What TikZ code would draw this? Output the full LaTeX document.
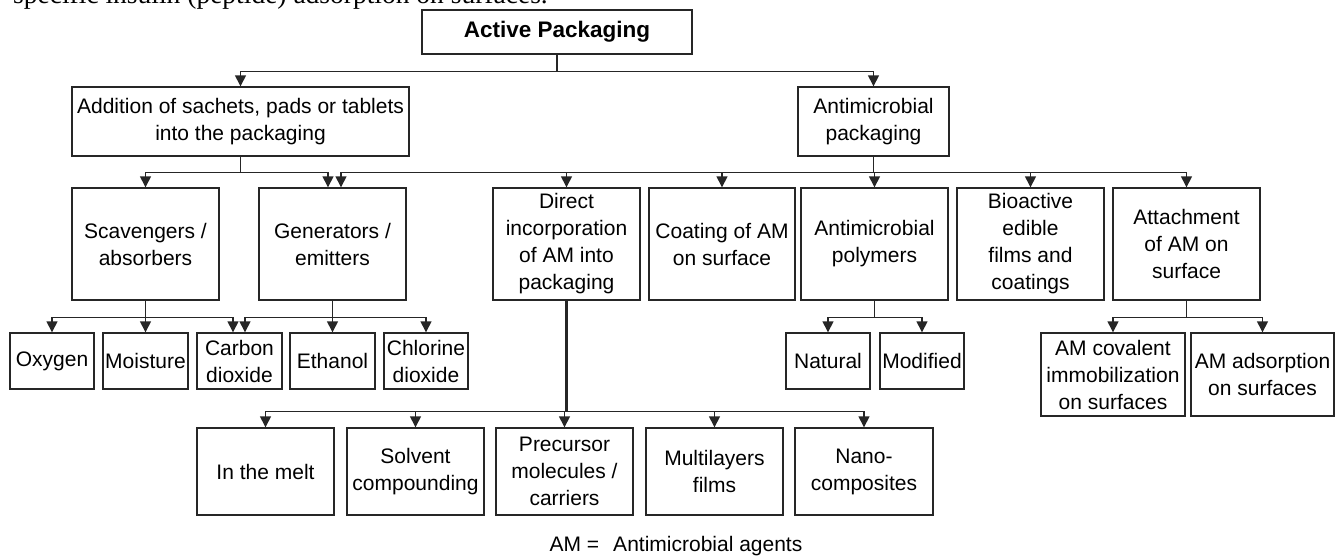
\documentclass[tikz,border=0pt]{standalone}
\usepackage{fontspec}
\setmainfont{Liberation Sans}
\newfontfamily\pageserif{Liberation Serif}
\usetikzlibrary{arrows.meta}
\tikzset{
  box/.style={draw=black!85, line width=1.4pt, inner sep=0pt, align=center,
    font=\fontsize{21}{27}\selectfont, text=black},
  sz/.style 2 args={minimum width=#1, minimum height=#2},
  arr/.style={draw=black!85, line width=1.4pt, -{Triangle[length=11pt,width=11pt]}},
  stem/.style={draw=black!85, line width=2.4pt},
}
\begin{document}
\begin{tikzpicture}[x=1pt,y=-1pt]
\useasboundingbox (0,0) rectangle (1344,558);
\clip (0,0) rectangle (1344,558);
\fill[white] (0,0) rectangle (1344,558);

% cut-off line of the page text
\node[anchor=base west, inner sep=0pt, font=\pageserif\fontsize{27.5}{30}\selectfont] (pagetext) at (13,3.5)
  {specific insulin (peptide) adsorption on surfaces.};

% level 0
\node[box, sz={270}{44}, font=\bfseries\fontsize{22.5}{26}\selectfont] (ap) at (557,32) {Active Packaging};
% level 1
\node[box, sz={337}{69}] (add) at (240.5,121.5) {Addition of sachets, pads or tablets\\into the packaging};
\node[box, sz={151}{69}] (amp) at (873.5,121.5) {Antimicrobial\\packaging};
% level 2
\node[box, sz={147}{112}] (sc)   at (145.5,244)  {Scavengers /\\absorbers};
\node[box, sz={147}{112}] (gen)  at (332.5,244)  {Generators /\\emitters};
\node[box, sz={147}{112}] (dir)  at (566.5,244)  {Direct\\incorporation\\of AM into\\packaging};
\node[box, sz={146}{112}] (coat) at (722,244)    {Coating of AM\\on surface};
\node[box, sz={147}{112}] (poly) at (874.5,244)  {Antimicrobial\\polymers};
\node[box, sz={147}{112}] (bio)  at (1030.5,244) {Bioactive\\edible\\films and\\coatings};
\node[box, sz={147}{112}] (att)  at (1186.5,244) {Attachment\\of AM on\\surface};
% level 3
\node[box, sz={84}{56}] (oxy) at (52,361)    {Oxygen};
\node[box, sz={85}{56}] (moi) at (145.5,361) {Moisture};
\node[box, sz={85}{56}] (co2) at (239.5,361) {Carbon\\dioxide};
\node[box, sz={85}{56}] (eth) at (332.5,361) {Ethanol};
\node[box, sz={84}{56}] (clo) at (426,361)   {Chlorine\\dioxide};
\node[box, sz={84}{56}] (nat) at (828,361)   {Natural};
\node[box, sz={84}{56}] (mod) at (922,361)   {Modified};
\node[box, sz={144}{83}] (cov) at (1113,374.5)  {AM covalent\\immobilization\\on surfaces};
\node[box, sz={143}{83}] (ads) at (1262.5,374.5) {AM adsorption\\on surfaces};
% level 4
\node[box, sz={137}{87}] (melt)  at (265.5,471.5) {In the melt};
\node[box, sz={137}{87}] (solv)  at (415.5,471.5) {Solvent\\compounding};
\node[box, sz={137}{87}] (prec)  at (564.5,471.5) {Precursor\\molecules /\\carriers};
\node[box, sz={137}{87}] (multi) at (714.5,471.5) {Multilayers\\films};
\node[box, sz={138}{87}] (nano)  at (864,471.5)   {Nano-\\composites};

\node[inner sep=0pt, font=\fontsize{21}{24}\selectfont] (note) at (676,546) {AM =\hspace{14pt}Antimicrobial agents};

% connectors
\draw[arr] (ap.south) -- ++(0,17) -| (add.north);
\draw[arr] (ap.south) -- ++(0,17) -| (amp.north);

\draw[arr] (add.south) -- ++(0,16) -| (sc.north);
\draw[arr] (add.south) -- ++(0,16) -| ([xshift=-4.5pt]gen.north);

\draw[arr] (amp.south) -- ++(0,16) -| ([xshift=8.5pt]gen.north);
\draw[arr] (amp.south) -- ++(0,16) -| (dir.north);
\draw[arr] (amp.south) -- ++(0,16) -| (coat.north);
\draw[arr] (amp.south) -- ++(0,16) -| (poly.north);
\draw[arr] (amp.south) -- ++(0,16) -| (bio.north);
\draw[arr] (amp.south) -- ++(0,16) -| (att.north);

\draw[arr] (sc.south) -- ++(0,17) -| (oxy.north);
\draw[arr] (sc.south) -- ++(0,17) -| (moi.north);
\draw[arr] (sc.south) -- ++(0,17) -| ([xshift=-6.5pt]co2.north);
\draw[arr] (gen.south) -- ++(0,17) -| ([xshift=5.5pt]co2.north);
\draw[arr] (gen.south) -- ++(0,17) -| (eth.north);
\draw[arr] (gen.south) -- ++(0,17) -| (clo.north);

\draw[stem] (dir.south) -- ++(0,111);
\draw[arr] (dir.south) -- ++(0,111) -| (melt.north);
\draw[arr] (dir.south) -- ++(0,111) -| (solv.north);
\draw[arr] (dir.south) -- ++(0,111) -| (prec.north);
\draw[arr] (dir.south) -- ++(0,111) -| (multi.north);
\draw[arr] (dir.south) -- ++(0,111) -| (nano.north);

\draw[arr] (poly.south) -- ++(0,17) -| (nat.north);
\draw[arr] (poly.south) -- ++(0,17) -| (mod.north);

\draw[arr] (att.south) -- ++(0,17) -| (cov.north);
\draw[arr] (att.south) -- ++(0,17) -| (ads.north);
\end{tikzpicture}
\end{document}
